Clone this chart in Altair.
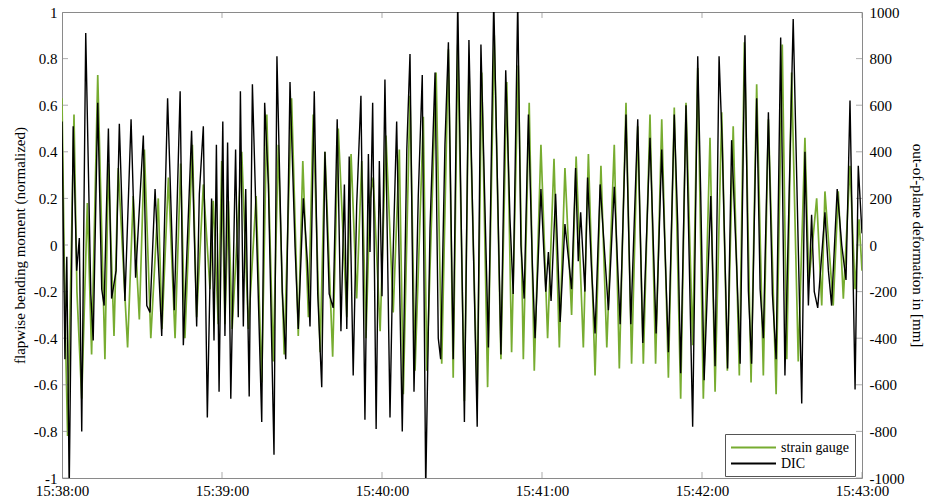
import altair as alt
import pandas as pd

# ---- data (seconds after 15:38:00) ----
sg_t = [0, 0.75, 1.5, 2.1, 4.5, 5.6, 7.4, 9.5, 11.1, 13.4,
        16.1, 17.4, 19.5, 21.1, 24.6, 26.7, 29.0, 30.9, 33.3, 36.1,
        37.5, 39.9, 42.4, 44.5, 46.1, 48.9, 50.5, 53.0, 55.5, 56.7,
        58.6, 59.9, 61.1, 62.4, 63.8, 67.4, 69.9, 72.8, 74.9, 76.8,
        79.2, 81.1, 83.3, 86.1, 88.6, 90.3, 92.4, 94.2, 96.8, 98.6,
        101.5, 103.6, 106.8, 108.4, 110.5, 112.4, 114.0, 115.5, 116.7, 119.3,
        121.5, 124.2, 126.5, 128.0, 130.5, 132.4, 135.5, 136.8, 140.3, 142.4,
        144.9, 146.7, 148.4, 150.9, 152.6, 155.7, 157.4, 159.6, 162.1, 164.6,
        166.8, 168.6, 171.1, 173.0, 175.2, 177.1, 179.6, 182.1, 184.5, 186.5,
        188.6, 191.1, 192.8, 195.5, 197.4, 199.9, 202.1, 204.3, 207.1, 209.0,
        211.5, 213.6, 215.9, 218.0, 220.5, 222.6, 224.9, 227.4, 229.6, 232.0,
        234.0, 236.5, 238.4, 240.5, 243.0, 244.9, 247.4, 249.5, 251.7, 254.0,
        255.9, 258.4, 260.5, 263.0, 264.9, 267.8, 270.1, 271.8, 273.6, 276.1,
        278.6, 280.1, 283.0, 284.9, 286.1, 289.2, 291.1, 293.0, 295.5, 297.4,
        298.9, 300]
sg_v = [0.63, 0.0, -0.50, -0.82, 0.56, -0.20, -0.66, 0.18, -0.47, 0.73,
        -0.49, 0.35, -0.39, 0.33, -0.44, 0.21, -0.32, 0.41, -0.40, 0.20,
        -0.36, 0.29, -0.40, 0.35, -0.40, 0.43, -0.31, 0.26, -0.19, 0.19,
        -0.34, 0.36, -0.34, 0.19, -0.36, 0.40, -0.36, 0.21, -0.59, 0.56,
        -0.50, 0.43, -0.47, 0.63, -0.39, 0.36, -0.31, 0.56, -0.46, 0.40,
        -0.48, 0.50, -0.31, 0.39, -0.23, 0.36, -0.40, 0.20, 0.29, -0.37,
        0.47, -0.29, 0.41, -0.64, 0.64, -0.54, 0.55, -0.54, 0.74, -0.51,
        0.84, -0.57, 0.86, -0.67, 0.76, -0.66, 0.74, -0.61, 0.90, -0.49,
        0.70, -0.46, 0.77, -0.49, 0.61, -0.54, 0.43, -0.40, 0.37, -0.44,
        0.33, -0.30, 0.38, -0.44, 0.39, -0.56, 0.34, -0.44, 0.43, -0.53,
        0.61, -0.51, 0.51, -0.51, 0.56, -0.51, 0.54, -0.57, 0.59, -0.66,
        0.61, -0.43, 0.76, -0.66, 0.46, -0.63, 0.57, -0.54, 0.51, -0.56,
        0.87, -0.59, 0.69, -0.56, 0.54, -0.64, 0.86, -0.49, 0.74, -0.50,
        0.46, -0.16, 0.20, -0.26, 0.23, -0.26, 0.23, -0.23, 0.34, -0.19,
        0.11, -0.11]

dic_t = [0, 1.1, 1.8, 2.7, 4.2, 5.5, 6.5, 7.4, 8.9, 10.8,
         11.7, 13.4, 14.9, 15.8, 17.4, 18.6, 20.3, 21.5, 23.6, 25.9,
         27.6, 30.5, 31.8, 33.0, 34.9, 37.4, 39.6, 42.1, 44.3, 45.5,
         48.6, 50.5, 51.5, 53.0, 54.5, 56.1, 57.0, 57.9, 58.9, 60.3,
         61.1, 62.1, 63.3, 65.1, 66.1, 66.9, 68.0, 68.9, 70.2, 71.4,
         73.0, 74.9, 76.0, 77.4, 79.5, 80.6, 82.6, 83.9, 85.5, 87.4,
         88.6, 90.5, 92.0, 93.0, 94.6, 95.9, 97.4, 98.6, 100.2, 101.7,
         103.2, 104.6, 105.9, 106.8, 107.7, 109.2, 110.5, 112.1, 113.6, 114.9,
         115.5, 116.5, 117.8, 119.0, 120.0, 121.1, 123.0, 124.0, 125.5, 127.6,
         129.3, 130.5, 132.0, 133.6, 135.1, 136.4, 138.0, 139.9, 141.1, 142.0,
         143.6, 144.9, 146.7, 148.4, 150.9, 152.6, 155.7, 157.1, 159.9, 161.9,
         164.6, 166.4, 168.0, 169.2, 170.9, 172.1, 173.3, 174.9, 176.4, 177.4,
         178.4, 179.6, 181.4, 182.4, 183.4, 185.1, 186.8, 188.6, 191.1, 192.6,
         193.6, 194.5, 196.1, 197.1, 198.6, 199.9, 201.8, 204.9, 207.1, 209.3,
         211.5, 213.3, 215.9, 217.8, 220.5, 222.8, 224.9, 227.4, 229.6, 230.9,
         232.0, 234.0, 236.5, 238.4, 239.5, 240.8, 243.3, 244.9, 246.4, 247.6,
         249.6, 251.1, 253.0, 254.3, 256.1, 257.4, 258.6, 260.5, 261.8, 263.0,
         264.9, 266.4, 267.8, 269.5, 271.1, 274.2, 277.4, 278.6, 279.9, 281.1,
         282.1, 283.4, 286.1, 287.4, 288.6, 290.7, 292.4, 294.0, 295.5, 297.4,
         298.6, 300]
dic_mm = [530, -490, -50, -1050, 510, -110, 30, -800, 910, -210,
          -410, 610, -190, -260, 500, -230, -110, 520, -240, 540,
          -140, 470, -260, -290, 240, -390, 630, -280, 660, -430,
          490, -350, 220, 510, -740, 200, -410, 430, -630, 530,
          -390, 440, -660, 410, -310, 660, -350, 240, -650, 690,
          30, -760, 610, 260, -900, 810, -200, -490, 700, -10,
          -360, 200, -70, -350, 660, -210, -610, 400, -210, -270,
          540, -370, 260, -360, 380, -560, 170, 640, -750, 390,
          -30, 610, -790, 360, -220, 710, -740, -110, 530, -800,
          410, 820, -630, 210, 730, -1050, 70, 740, -400, -490,
          430, 870, -490, 1050, -760, 880, -780, 860, -440, 1050,
          -470, 750, 110, -210, 1050, 0, -230, 560, -90, -400,
          -110, 240, -200, -30, -240, 220, -330, 90, -190, 330,
          -70, 140, -200, 290, -110, -380, 260, -280, 250, -340,
          560, -340, 540, -420, 460, -380, 410, -460, 560, 90,
          -550, 600, -780, 810, 230, -580, 210, -520, 810, 430,
          -530, 450, -90, -510, 900, -200, -510, 630, -190, -400,
          570, -210, -490, 890, -560, 970, -680, 400, -260, 130,
          -200, -270, 140, -110, -260, 240, 0, -150, 620, -620,
          340, 50]

series_names = ["strain gauge", "DIC"]
series_colors = ["#77AC30", "#000000"]
x_tick_minutes = [38, 39, 40, 41, 42, 43]
left_ticks = [-1, -0.8, -0.6, -0.4, -0.2, 0, 0.2, 0.4, 0.6, 0.8, 1]
right_ticks = [-1000, -800, -600, -400, -200, 0, 200, 400, 600, 800, 1000]

# ---- build tables ----
base = pd.Timestamp("2021-06-15 15:38:00")
sg_df = pd.DataFrame({"time": base + pd.to_timedelta(sg_t, unit="s"),
                      "v": sg_v, "series": series_names[0]})
dic_df = pd.DataFrame({"time": base + pd.to_timedelta(dic_t, unit="s"),
                       "mm": dic_mm, "series": series_names[1]})

xt_rows = []
for m in x_tick_minutes:
    for yv in (-1, 1):
        xt_rows.append({"time": base + pd.Timedelta(minutes=m - 38), "v": yv})
xt_df = pd.DataFrame(xt_rows)
yt_rows = []
for tt in (x_tick_minutes[0], x_tick_minutes[-1]):
    for yv in left_ticks:
        yt_rows.append({"time": base + pd.Timedelta(minutes=tt - 38), "v": yv})
yt_df = pd.DataFrame(yt_rows)

FONT = "Liberation Serif"
FRAME = "#8a8a8a"

def dt(minute):
    return alt.DateTime(year=2021, month=6, date=15, hours=15, minutes=minute)

x_scale = alt.Scale(domain=[dt(38), dt(43)], nice=False)
x_axis = alt.Axis(values=[dt(m) for m in x_tick_minutes], format="%H:%M:%S",
                  title=None, ticks=False, domain=False, grid=False,
                  labelFlush=False, labelOverlap=False, labelPadding=5)
y_left_scale = alt.Scale(domain=[-1, 1], nice=False, zero=False)
y_right_scale = alt.Scale(domain=[-1000, 1000], nice=False, zero=False)
y_left_axis = alt.Axis(values=left_ticks, labelExpr="'' + datum.value",
                       title="flapwise bending moment (normalized)",
                       ticks=False, domain=False, grid=False,
                       labelPadding=5, titlePadding=6)

color = alt.Color("series:N",
                  scale=alt.Scale(domain=series_names, range=series_colors),
                  legend=alt.Legend(title=None, orient="none", legendX=663, legendY=422,
                                    symbolType="M-1,0H5", symbolSize=225,
                                    symbolStrokeWidth=2, labelOffset=34,
                                    labelFontSize=14, labelFont=FONT,
                                    padding=5, rowPadding=0,
                                    strokeColor="#555555", fillColor="white"))

green = alt.Chart(sg_df).mark_line(strokeWidth=1.7, clip=True).encode(
    x=alt.X("time:T", scale=x_scale, axis=x_axis),
    y=alt.Y("v:Q", scale=y_left_scale, axis=y_left_axis),
    color=color,
)

xticks = alt.Chart(xt_df).mark_tick(orient="vertical", size=12, thickness=1,
                                    color=FRAME, clip=True).encode(
    x=alt.X("time:T", scale=x_scale, axis=x_axis),
    y=alt.Y("v:Q", scale=y_left_scale, axis=y_left_axis),
)
yticks = alt.Chart(yt_df).mark_tick(orient="horizontal", size=12, thickness=1,
                                    color=FRAME, clip=True).encode(
    x=alt.X("time:T", scale=x_scale, axis=x_axis),
    y=alt.Y("v:Q", scale=y_left_scale, axis=y_left_axis),
)

black = alt.Chart(dic_df).mark_line(strokeWidth=1.4, clip=True).encode(
    x=alt.X("time:T", scale=x_scale, axis=x_axis),
    y=alt.Y("mm:Q", scale=y_right_scale,
            axis=alt.Axis(orient="right", values=right_ticks,
                          labelExpr="'' + datum.value",
                          title="out-of-plane deformation in [mm]",
                          ticks=False, domain=False, grid=False,
                          labelPadding=7, titlePadding=6)),
    color=color,
)

left = alt.layer(green, xticks, yticks)
chart = alt.layer(left, black).resolve_scale(y="independent").properties(
    width=800, height=466,
    padding={"left": 62, "top": 12, "right": 66, "bottom": 24},
    autosize=alt.AutoSizeParams(type="none"),
    background="white",
).configure_view(stroke=FRAME, strokeWidth=1).configure_axis(
    labelFont=FONT, titleFont=FONT, labelFontSize=15, titleFontSize=15,
    labelColor="black", titleColor="black", titleFontWeight="normal",
).configure_legend(labelFont=FONT, labelColor="black")

chart.save("out.html", embed_options={"renderer": "svg", "actions": False})
